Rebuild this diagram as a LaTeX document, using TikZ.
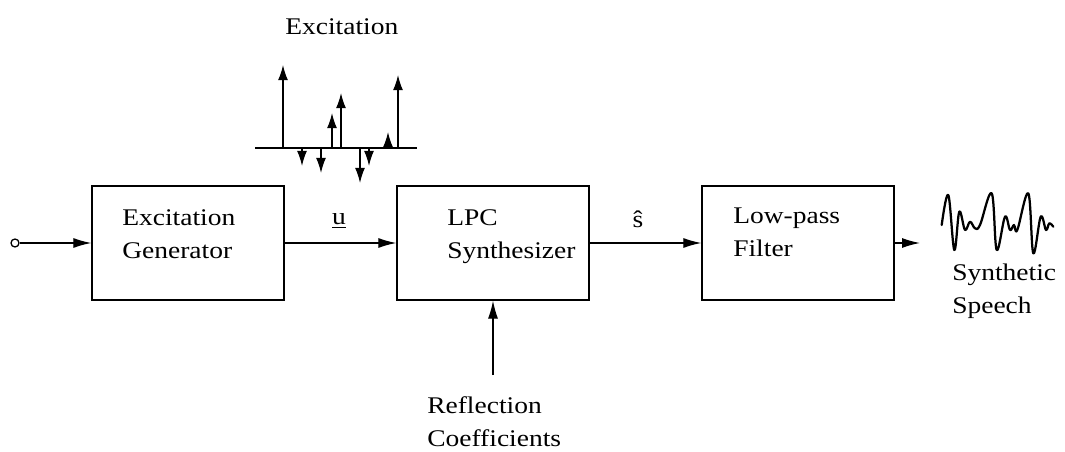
\documentclass[tikz,border=0pt]{standalone}
\usepackage{fontspec}
\setmainfont{Liberation Serif}[FakeStretch=1.15]
\usetikzlibrary{arrows.meta}
\tikzset{
  blk/.style    = {draw, line width=0.9pt, minimum width=4.8cm,
                   minimum height=2.85cm, inner sep=0pt},
  % box captions sit in the upper left of each box
  blktxt/.style = {anchor=north west, align=left, inner sep=0pt,
                   font=\fontsize{17}{23.4}\selectfont},
  lbl/.style    = {inner sep=0pt, font=\fontsize{17}{23.4}\selectfont},
  port/.style   = {draw, circle, line width=0.9pt, minimum size=0.2cm, inner sep=0pt},
  link/.style   = {line width=0.9pt, -{Latex[length=4.5mm,width=2.5mm]}},
  pulse/.style  = {line width=1pt, -{Latex[length=3.8mm,width=2.5mm]}},
  wave/.style   = {line width=1.6pt, line cap=round, line join=round},
}

\begin{document}
\begin{tikzpicture}[x=0.025cm, y=-0.025cm]
    \useasboundingbox (0,0) rectangle (1065,452);

    \node[port] (inp) at (15,243) {};
    \node[blk] (gen) at (188,243) {};
    \node[blk] (lpc) at (493,243) {};
    \node[blk] (flt) at (798,243) {};

    \node[blktxt] (gentxt) at (122,209) {Excitation\\Generator};
    \node[blktxt] (lpctxt) at (447,209) {LPC\\Synthesizer};
    \node[blktxt] (flttxt) at (733,208) {Low-pass\\Filter};

    \node[lbl] (ulbl) at (339,221) {\underline{u}};
    \node[lbl] (slbl) at (638,219) {\^{s}};

    \coordinate (outp) at (920,243);
    \coordinate (refl) at (493,375);

    \draw[link] (inp.east) -- (gen.west);
    \draw[link] (gen.east) -- (lpc.west);
    \draw[link] (lpc.east) -- (flt.west);
    \draw[link] (flt.east) -- (outp);
    \draw[link] (refl) -- (lpc.south);

    \node[blktxt] (refltxt) at (427,396) {Reflection\\Coefficients};
    \node[blktxt] (spchtxt) at (952,264) {Synthetic\\Speech};
    \node[lbl, anchor=base west] (exctxt) at (285,35) {Excitation};

    % excitation pulse train
    \draw[line width=1pt] (255,148) -- (417,148);
    \foreach \px/\py in {283/65, 302/166, 321/173, 332/113, 341/93,
                         360/183, 369/166, 388/132, 398/75}
      \draw[pulse] (\px,148) -- (\px,\py);

    % speech waveform
    \draw[wave] plot[smooth, tension=0.6] coordinates {
      (941.7,225) (948.3,195) (954.3,250) (959.3,211.7) (965,230)
      (970,221.7) (975,228.3) (980,225) (991.7,193.3) (996.7,250)
      (1005,216.7) (1010,230) (1014,225) (1017.3,230) (1028.3,193.3)
      (1033.3,253.3) (1040.7,216.7) (1046,230) (1049.3,223.3) (1053.3,226.7)};
\end{tikzpicture}
\end{document}
